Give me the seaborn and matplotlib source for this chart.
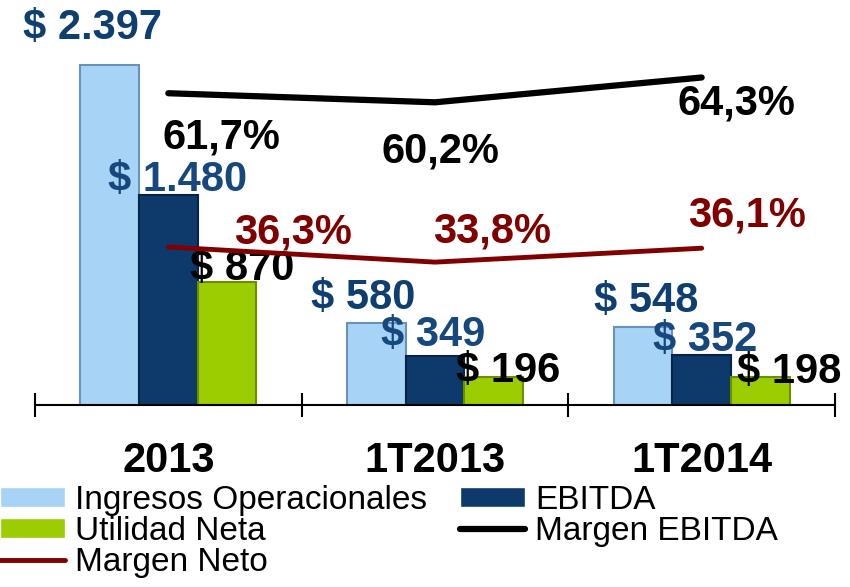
import numpy as np
import pandas as pd
import seaborn as sns
import matplotlib.pyplot as plt

periodos = ['2013', '1T2013', '1T2014']
ingresos = [2397, 580, 548]
ebitda = [1480, 349, 352]
utilidad = [870, 196, 198]
margen_ebitda = [61.7, 60.2, 64.3]
margen_neto = [36.3, 33.8, 36.1]

series = ['Ingresos Operacionales', 'EBITDA', 'Utilidad Neta']
colores = ['#A7D3F7', '#0D3A6B', '#9BCD00']
bordes = ['#6A92B8', '#062445', '#6B8F00']
color_lbl = ['#0F3F70', '#17487D', 'black']

# label offsets in pixels (dx, dy), one row per series
off_barras = [[(-17, 37), (-13, 25), (3, 26)],
              [(9, 15), (-2, 21), (3, 15)],
              [(15, 13), (14, 6), (29, 5)]]
off_ebitda = [(53, -44), (5, -49), (35, -26)]
off_neto = [(125, 14), (57, 31), (45, 33)]

df = pd.DataFrame({
    'periodo': periodos * 3,
    'serie': np.repeat(series, 3),
    'valor': ingresos + ebitda + utilidad,
})

sns.set_theme(style="white")
plt.rcParams['font.family'] = ['Liberation Sans', 'DejaVu Sans']

fig = plt.figure(figsize=(8.5, 5.87), dpi=100)
ax = fig.add_axes([35/850, 182/587, 800/850, 405/587])

sns.barplot(data=df, x='periodo', y='valor', hue='serie', hue_order=series,
            palette=colores, width=0.66, saturation=1, ax=ax)
for cont, borde in zip(ax.containers, bordes):
    for p in cont:
        p.set_edgecolor(borde)
        p.set_linewidth(1.5)

ax.set_xlim(-0.5, 2.5)
ax.set_ylim(0, 2856)
h_bar, l_bar = ax.get_legend_handles_labels()
ax.get_legend().remove()

for i, cont in enumerate(ax.containers):
    for j, p in enumerate(cont):
        v = p.get_height()
        txt = '$ ' + f'{int(v):,}'.replace(',', '.')
        ax.annotate(txt, (p.get_x() + p.get_width() / 2, v),
                    xytext=off_barras[i][j], textcoords='offset pixels',
                    ha='center', va='center', fontsize=30, fontweight='bold',
                    color=color_lbl[i], zorder=5)

ax2 = ax.twinx()
x = list(range(len(periodos)))
sns.lineplot(x=x, y=margen_ebitda, ax=ax2, color='black', lw=4.5,
             label='Margen EBITDA', solid_capstyle='round')
sns.lineplot(x=x, y=margen_neto, ax=ax2, color='#800000', lw=3.5,
             label='Margen Neto', solid_capstyle='round')
ax2.set_ylim(10.2, 77.1)
h_lin, l_lin = ax2.get_legend_handles_labels()
ax2.get_legend().remove()

for xi, v, o in zip(x, margen_ebitda, off_ebitda):
    ax2.annotate(f'{v:.1f}%'.replace('.', ','), (xi, v), xytext=o,
                 textcoords='offset pixels', ha='center', va='center',
                 fontsize=30, fontweight='bold', color='black')
for xi, v, o in zip(x, margen_neto, off_neto):
    ax2.annotate(f'{v:.1f}%'.replace('.', ','), (xi, v), xytext=o,
                 textcoords='offset pixels', ha='center', va='center',
                 fontsize=30, fontweight='bold', color='#800000')

for a in (ax, ax2):
    for s in ('top', 'left', 'right'):
        a.spines[s].set_visible(False)
    a.set_xlabel('')
    a.set_ylabel('')
ax2.spines['bottom'].set_visible(False)
ax.set_yticks([])
ax2.set_yticks([])

ax.spines['bottom'].set_color('black')
ax.spines['bottom'].set_linewidth(1.5)
ax.set_xticks([-0.5, 0.5, 1.5, 2.5])
ax.set_xticklabels([])
ax.set_xticks(x, minor=True)
ax.set_xticklabels(periodos, minor=True, fontsize=30, fontweight='bold',
                   color='black')
ax.tick_params(axis='x', which='major', direction='inout', length=17,
               width=1.5, color='black', bottom=True)
ax.tick_params(axis='x', which='minor', length=0, pad=26, bottom=True)

hs = [h_bar[0], h_bar[2], h_lin[1], h_bar[1], h_lin[0]]
ls = [l_bar[0], l_bar[2], l_lin[1], l_bar[1], l_lin[0]]
leg = fig.legend(hs, ls, loc='upper left', bbox_to_anchor=(0.0, 0.174),
                 ncol=2, frameon=False, fontsize=24, labelspacing=0.0,
                 handlelength=1.95, handleheight=0.55, handletextpad=0.3,
                 columnspacing=1.0, borderpad=0, borderaxespad=0)
for t in leg.get_texts():
    t.set_color('black')

fig.savefig('out.png', dpi=100)
